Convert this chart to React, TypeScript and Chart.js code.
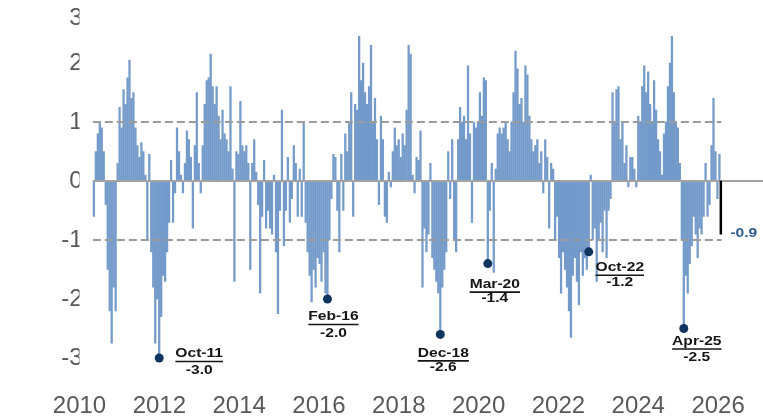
import React, { useEffect, useRef } from "react";
import { Chart, registerables } from "chart.js";

Chart.register(...registerables);

// Time axis of the series (decimal years): first observation and spacing
const START_YEAR = 2010.36;
const STEP_YEARS = 0.0496;

// Indicator values (oldest -> newest)
const SERIES: number[] = [
  -0.6, 0.5, 0.8, 1.0, 0.9, 0.5, -0.4, -1.5, -2.2, -2.75,
  -1.8, -2.2, 0.3, 1.25, 0.9, 1.55, 1.3, 1.75, 2.05, 1.4,
  1.5, 0.9, 0.6, 0.4, 0.65, 0.5, 0.1, -1.0, 0.45, -1.2,
  -1.8, -2.75, -2.0, -3.0, -2.3, -1.6, -1.7, -1.2, -0.7, 0.35,
  -0.7, -0.2, 0.9, 0.5, 0.1, -0.2, 0.3, 0.85, 0.7, 0.4,
  -0.8, 0.6,
  1.5, 0.3, -0.2, 0.6, 1.3, 1.7, 1.75, 2.15, 1.6, 1.3,
  1.6, 1.1, 0.7, 1.2, 0.8, 0.7, 0.5, 1.6, 0.2, -1.7,
  0.5, 0.45, 1.35, 0.6, 0.5, 0.6, 0.3, -1.5, 0.3, 0.7,
  0.15, -0.4, -1.9, -0.6, 0.35, -0.8, -0.5, -0.8, -0.9, 0.1,
  -1.2, -2.25, -0.5, 1.2, -1.1, -0.5, 0.4, -0.7, -0.3, 0.6,
  0.3, -0.6, 0.2,
  -0.6, 1.0, -0.7, -1.2, -1.6, -2.05, -1.5, -1.8, -1.3, -1.4,
  -1.7, -1.2, -1.9, -2.0, -1.0, -0.3, 0.45, 0.4, -0.5, -1.2,
  0.45, -0.5, 0.8, 0.5, 1.0, 1.5, -0.6, 1.3, 1.2, 2.45,
  1.7, 2.0, 1.5, 1.3, 1.6, 2.3, 1.0, 1.4, 0.7, -0.4,
  1.1, 0.7, -0.6, -0.7, 0.15, -0.1, 0.5, 0.9, 0.6, 0.7,
  0.4, 0.8, 0.6,
  1.2, 2.3, 2.15, 0.1, -0.2, 0.4, 0.35, 0.85, -1.8, -0.8,
  -1.2, -0.9, 0.3, -1.3, -1.5, -1.7, -1.9, -2.6, -1.8, -1.5,
  -1.2, 0.5, -0.3, 0.7, -1.0, -1.2, 0.7, 1.25, 1.0, 1.1,
  0.7, 1.95, 0.8, -0.7, 1.0, 0.9, 1.0, 1.5, 1.1, 1.75,
  1.7, -1.4, -0.5, 0.3, -1.55, 0.2, 0.8, 0.9, 0.8, 0.9,
  1.0, 0.7, 0.5,
  1.0, 1.5, 2.2, 1.9, 1.3, 1.4, 1.0, 1.95, 1.8, 1.1,
  0.7, 0.5, 0.6, 0.7, 0.3, 0.5, -0.2, 0.7, 0.4, -0.8,
  0.3, 0.2, -1.0, -0.6, -1.3, -1.9, -1.2, -1.5, -1.8, -2.2,
  -2.65, -1.6, -1.3, -1.7, -2.1, -1.2, -1.6, -1.3, -1.5, -1.2,
  0.1, -1.0, -0.8, -1.7, -1.0, -0.7, -1.2, -0.5, -1.3, -0.5,
  -0.3, 1.5, 1.0,
  1.55, 1.6, 0.7, 1.0, 0.3, 0.6, -0.1, 0.4, 0.4, 0.2,
  -0.1, 1.1, 1.0, 1.6, 1.95, 1.5, 1.85, 1.3, 1.0, 1.7,
  1.2, 0.7, 0.5, 0.1, 0.8, 1.0, 1.6, 2.0, 2.45, 1.5,
  1.0, 0.9, 0.3, -1.0, -2.5, -1.6, -1.9, -1.4, -1.1, -0.6,
  -0.9, -1.3, -0.8, -0.9, -0.6, 0.3, -0.6, -0.4, 0.6, 1.4,
  0.5, -0.3, 0.45,
];

// Latest reading (black bar)
const LATEST = -0.9;
const LATEST_LABEL = "-0.9";

// Annotated troughs
const ANNOT_INDEX = [33, 118, 175, 199, 250, 298];
const ANNOT_DATES = ["Oct-11", "Feb-16", "Dec-18", "Mar-20", "Oct-22", "Apr-25"];
const ANNOT_VALUES = [-3.0, -2.0, -2.6, -1.4, -1.2, -2.5];
// label placement relative to the dot: [dx, dy of date, dy of value]
const ANNOT_OFFSETS = [
  [40, -4, 13],
  [6, 18, 35],
  [3, 19, 33],
  [7, 21, 35],
  [31, 16, 31],
  [13, 13, 29],
];

// Axes
const X_MIN = 2010;
const X_MAX = 2026.1;
const X_TICKS = [2010, 2012, 2014, 2016, 2018, 2020, 2022, 2024, 2026];
const Y_MIN = -3.271;
const Y_MAX = 2.75;
const Y_TICKS = [-3, -2, -1, 0, 1, 2];
const Y_TOP_LABEL = "3";
const THRESHOLDS = [1, -1];

const FONT = "'Liberation Sans', Arial, sans-serif";

export default function App() {
  const ref = useRef<HTMLCanvasElement | null>(null);

  useEffect(() => {
    const canvas = ref.current;
    if (!canvas) return;

    const xOf = (i: number) => START_YEAR + i * STEP_YEARS;
    const barPoints = SERIES.map((v, i) => ({ x: xOf(i), y: v }));
    const latestX = xOf(SERIES.length);
    const dotPoints = ANNOT_INDEX.map((idx, k) => ({ x: xOf(idx), y: ANNOT_VALUES[k] }));

    const linesPlugin = {
      id: "refLines",
      afterDatasetDraw(chart: any, args: any) {
        if (args.index !== 0) return;
        const { ctx } = chart;
        const xs = chart.scales.x;
        const ys = chart.scales.y;
        const x0 = xs.getPixelForValue(START_YEAR) - 1;
        const x1 = xs.getPixelForValue(latestX);
        ctx.save();
        ctx.strokeStyle = "#9b9b9b";
        ctx.lineWidth = 2;
        ctx.setLineDash([8, 4]);
        for (const t of THRESHOLDS) {
          const y = Math.round(ys.getPixelForValue(t));
          ctx.beginPath();
          ctx.moveTo(x0, y);
          ctx.lineTo(x1, y);
          ctx.stroke();
        }
        ctx.setLineDash([]);
        ctx.strokeStyle = "#a3a3a3";
        ctx.lineWidth = 2;
        const y0 = Math.round(ys.getPixelForValue(0));
        ctx.beginPath();
        ctx.moveTo(x0, y0);
        ctx.lineTo(chart.width, y0);
        ctx.stroke();
        ctx.restore();
      },
    };

    const drawStretched = (ctx: CanvasRenderingContext2D, text: string, cx: number, cy: number, sx: number, align: CanvasTextAlign) => {
      ctx.save();
      ctx.translate(cx, cy);
      ctx.scale(sx, 1);
      ctx.textAlign = align;
      ctx.textBaseline = "middle";
      ctx.fillText(text, 0, 0);
      const w = ctx.measureText(text).width * sx;
      ctx.restore();
      return w;
    };

    const labelPlugin = {
      id: "annotLabels",
      afterDraw(chart: any) {
        const { ctx } = chart;
        const xs = chart.scales.x;
        const ys = chart.scales.y;
        ctx.save();
        ctx.font = `bold 12px ${FONT}`;
        ctx.fillStyle = "#151515";
        ctx.strokeStyle = "#151515";
        ANNOT_INDEX.forEach((idx, k) => {
          const px = xs.getPixelForValue(xOf(idx));
          const py = ys.getPixelForValue(ANNOT_VALUES[k]);
          const [dx, dy1, dy2] = ANNOT_OFFSETS[k];
          const cx = px + dx;
          const w = drawStretched(ctx, ANNOT_DATES[k], cx, py + dy1, 1.3, "center");
          ctx.lineWidth = 1.6;
          ctx.beginPath();
          ctx.moveTo(cx - w / 2, py + dy1 + 7.5);
          ctx.lineTo(cx + w / 2, py + dy1 + 7.5);
          ctx.stroke();
          drawStretched(ctx, ANNOT_VALUES[k].toFixed(1), cx, py + dy2, 1.3, "center");
        });
        ctx.fillStyle = "#2f5d8c";
        const lx = xs.getPixelForValue(latestX) + 9;
        const ly = ys.getPixelForValue(LATEST);
        drawStretched(ctx, LATEST_LABEL, lx, ly, 1.3, "left");
        ctx.restore();
      },
    };

    const chart = new Chart(canvas, {
      type: "bar",
      data: {
        datasets: [
          {
            type: "bar",
            data: barPoints,
            backgroundColor: "rgba(104,146,197,0.92)",
            barThickness: 1.6,
            grouped: false,
            order: 3,
          } as any,
          {
            type: "bar",
            data: [{ x: latestX, y: LATEST }],
            backgroundColor: "#000000",
            barThickness: 3,
            grouped: false,
            order: 2,
          } as any,
          {
            type: "scatter",
            data: dotPoints,
            pointRadius: 4.5,
            pointBackgroundColor: "#0f355f",
            pointBorderWidth: 0,
            showLine: false,
            order: 1,
          } as any,
        ],
      },
      options: {
        responsive: false,
        maintainAspectRatio: false,
        animation: false,
        layout: { padding: { left: 59.5, right: 33.5, top: 18.75, bottom: 0 } },
        plugins: { legend: { display: false }, tooltip: { enabled: false } },
        scales: {
          x: {
            type: "linear",
            offset: false,
            min: X_MIN,
            max: X_MAX,
            grid: { display: false, drawTicks: false },
            border: { display: false },
            afterBuildTicks: (s: any) => {
              s.ticks = X_TICKS.map((v) => ({ value: v }));
            },
            afterFit: (s: any) => {
              s.height = 45;
            },
            ticks: {
              autoSkip: false,
              maxRotation: 0,
              padding: 18,
              color: "#595959",
              font: { family: FONT, size: 24 },
              callback: (v: any) => String(v),
            },
          },
          y: {
            type: "linear",
            min: Y_MIN,
            max: Y_MAX,
            grid: { display: false, drawTicks: false },
            border: { display: false },
            afterBuildTicks: (s: any) => {
              s.ticks = [...Y_TICKS.map((v) => ({ value: v })), { value: Y_MAX }];
            },
            afterFit: (s: any) => {
              s.width = 20;
            },
            ticks: {
              padding: -3,
              color: "#595959",
              font: { family: FONT, size: 24 },
              callback: (v: any) => (v === Y_MAX ? Y_TOP_LABEL : String(v)),
            },
          },
        },
      } as any,
      plugins: [linesPlugin, labelPlugin],
    });

    return () => chart.destroy();
  }, []);

  return (
    <div style={{ position: "absolute", left: 0, top: 0, width: 763, height: 419, background: "#ffffff" }}>
      <canvas ref={ref} width={763} height={419} style={{ display: "block" }} />
    </div>
  );
}
